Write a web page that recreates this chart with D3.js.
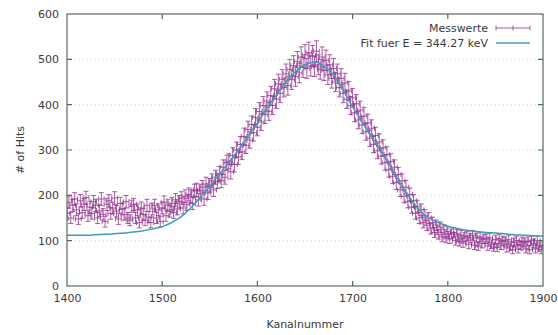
<!DOCTYPE html>
<html>
<head>
<meta charset="utf-8">
<script src="https://cdn.jsdelivr.net/npm/d3@7"></script>
<style>
  html, body { margin: 0; padding: 0; background: #fff; }
  svg text { font-family: "DejaVu Sans", Verdana, sans-serif; fill: #3a3a3a; }
</style>
</head>
<body>
<svg id="chart" width="558" height="335"></svg>
<script>
// Measured counts per channel (every second channel, 1400..1900)
const channelStart = 1400;
const channelStep = 2;
const counts = [
  160, 185, 150, 178, 192,  168, 148, 188, 162, 180,
  195, 155, 174, 160, 186,  178, 150, 166, 192, 158,
  142, 180, 188, 160, 172,  194, 165, 148, 182, 170,
  158, 186, 150, 145, 176,  180, 150, 168, 140, 172,
  158, 145, 178, 152, 140,  170, 178, 150, 168, 142,
  172, 185, 155, 178, 165,  182, 162, 190, 170, 186,
  194, 172, 198, 180, 202,  198, 182, 210, 212, 190,
  210, 218, 192, 225, 205,  222, 232, 212, 240, 230,
  248, 232, 262, 240, 272,  275, 252, 288, 268, 300,
  285, 312, 296, 330, 310,  345, 322, 356, 338, 372,
  350, 385, 362, 398, 378,  408, 385, 420, 398, 435,
  412, 446, 425, 456, 438,  468, 442, 478, 455, 486,
  462, 495, 470, 505, 482,  510, 480, 515, 485, 508,
  484, 518, 488, 478, 505,  475, 498, 466, 488, 458,
  480, 450, 468, 438, 458,  425, 448, 412, 430, 398,
  415, 382, 402, 366, 388,  355, 375, 340, 360, 326,
  348, 312, 332, 298, 318,  286, 305, 272, 290, 256,
  275, 242, 262, 228, 246,  212, 232, 198, 218, 186,
  202, 174, 188, 160, 176,  150, 168, 140, 156, 134,
  150, 126, 140, 118, 134,  114, 130, 108, 124, 106,
  120, 104, 115, 118, 100,  114, 98, 112, 95, 108,
  110, 92, 106, 112, 90,    106, 88, 108, 94, 104,
  104, 88, 106, 92, 86,     102, 85, 104, 90, 100,
  98, 84, 102, 88, 80,      96, 100, 82, 90, 98,
  96, 82, 98, 80, 100,      94, 82, 100, 86, 80,
  90
];
const channelHalfWidth = 3;

// Fit curve sampled every 10 channels
const fitChannels = d3.range(1400, 1901, 10);
const fitValues = [
  112, 112, 112, 113, 114, 115, 117, 119, 122, 126,
  131, 140, 153, 172, 195, 220, 247, 273, 300, 330,
  360, 392, 422, 450, 473, 488, 494, 485, 465, 432,
  395, 362, 330, 298, 262, 226, 195, 168, 150, 140,
  132, 127, 123, 120, 118, 117, 115, 113, 112, 111,
  110
];

const xTicks = [1400, 1500, 1600, 1700, 1800, 1900];
const yTicks = [0, 100, 200, 300, 400, 500, 600];
const legendLabels = ["Messwerte", "Fit fuer E = 344.27 keV"];
const xTitle = "Kanalnummer";
const yTitle = "# of Hits";

const points = counts.map((c, i) => ({ x: channelStart + i * channelStep, y: c, err: Math.sqrt(c) }));
const fit = fitChannels.map((c, i) => ({ x: c, y: fitValues[i] }));

const margin = { left: 67, right: 15, top: 14, bottom: 49 };
const W = 558, H = 335;
const svg = d3.select("#chart");

const x = d3.scaleLinear().domain([1400, 1900]).range([margin.left, W - margin.right]);
const y = d3.scaleLinear().domain([0, 600]).range([H - margin.bottom, margin.top]);

const axisColor = "#56695f";
const dataColor = "#93358f";
const fitColor = "#3d9db8";

// faint horizontal grid
svg.append("g").selectAll("line").data(yTicks.slice(1, -1)).join("line")
  .attr("x1", x.range()[0]).attr("x2", x.range()[1])
  .attr("y1", d => y(d)).attr("y2", d => y(d))
  .attr("stroke", "#c8c8c8").attr("stroke-dasharray", "1,3").attr("stroke-width", 0.8);

// clip region for marks
svg.append("clipPath").attr("id", "plot").append("rect")
  .attr("x", x.range()[0]).attr("y", y.range()[1])
  .attr("width", x.range()[1] - x.range()[0]).attr("height", y.range()[0] - y.range()[1]);

const cap = 2.5;
const bars = svg.append("g").attr("clip-path", "url(#plot)")
  .attr("stroke", dataColor).attr("stroke-width", 1).attr("stroke-opacity", 0.8).attr("fill", "none");

bars.selectAll("path").data(points).join("path")
  .attr("d", d => {
    const cx = x(d.x), cy = y(d.y);
    const xl = x(d.x - channelHalfWidth), xr = x(d.x + channelHalfWidth);
    const yt = y(d.y + d.err), yb = y(d.y - d.err);
    return `M${cx},${yt}V${yb}` +
           `M${cx - cap},${yt}H${cx + cap}M${cx - cap},${yb}H${cx + cap}` +
           `M${xl},${cy}H${xr}` +
           `M${xl},${cy - cap}V${cy + cap}M${xr},${cy - cap}V${cy + cap}`;
  });

// fit line
svg.append("path").datum(fit).attr("clip-path", "url(#plot)")
  .attr("fill", "none").attr("stroke", fitColor).attr("stroke-width", 1.5)
  .attr("d", d3.line().x(d => x(d.x)).y(d => y(d.y)).curve(d3.curveMonotoneX));

// frame with mirrored inward ticks
const [x0, x1] = x.range();
const [y0, y1] = y.range();
const frame = svg.append("g").attr("stroke", axisColor).attr("stroke-width", 1.2).attr("fill", "none");
frame.append("rect").attr("x", x0).attr("y", y1).attr("width", x1 - x0).attr("height", y0 - y1);
const tl = 5;
frame.selectAll(".xt").data(xTicks.slice(1, -1)).join("path").attr("class", "xt")
  .attr("d", d => `M${x(d)},${y0}v${-tl}M${x(d)},${y1}v${tl}`);
frame.selectAll(".yt").data(yTicks.slice(1, -1)).join("path").attr("class", "yt")
  .attr("d", d => `M${x0},${y(d)}h${tl}M${x1},${y(d)}h${-tl}`);

// tick labels via d3 axes (domain and tick lines hidden, frame drawn above)
const xAxis = svg.append("g").attr("transform", `translate(0,${y0})`)
  .call(d3.axisBottom(x).tickValues(xTicks).tickFormat(d3.format("d")).tickSize(0).tickPadding(8));
const yAxis = svg.append("g").attr("transform", `translate(${x0},0)`)
  .call(d3.axisLeft(y).tickValues(yTicks).tickFormat(d3.format("d")).tickSize(0).tickPadding(8));
[xAxis, yAxis].forEach(g => {
  g.select(".domain").remove();
  g.selectAll("text").attr("font-size", 11).attr("fill", "#3a3a3a")
    .style("font-family", "'DejaVu Sans', Verdana, sans-serif");
});

// axis titles
svg.append("text").attr("x", (x0 + x1) / 2).attr("y", 328).attr("text-anchor", "middle")
  .attr("font-size", 11).text(xTitle);
svg.append("text").attr("transform", `translate(24,${(y0 + y1) / 2}) rotate(-90)`)
  .attr("text-anchor", "middle").attr("font-size", 11).text(yTitle);

// legend
const lg = svg.append("g");
const sx0 = 496, sx1 = 530;
lg.append("text").attr("x", 488).attr("y", 32).attr("text-anchor", "end").attr("font-size", 11).text(legendLabels[0]);
lg.append("path").attr("stroke", dataColor).attr("stroke-opacity", 0.8).attr("fill", "none")
  .attr("d", `M${sx0},28H${sx1}M${sx0},${28 - cap}V${28 + cap}M${sx1},${28 - cap}V${28 + cap}M${(sx0 + sx1) / 2},${28 - cap}V${28 + cap}`);
lg.append("text").attr("x", 488).attr("y", 47).attr("text-anchor", "end").attr("font-size", 11).text(legendLabels[1]);
lg.append("line").attr("x1", sx0).attr("x2", sx1).attr("y1", 43).attr("y2", 43)
  .attr("stroke", fitColor).attr("stroke-width", 1.5);
</script>
</body>
</html>
